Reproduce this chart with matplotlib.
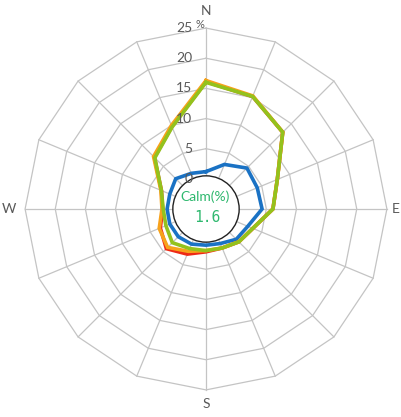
import matplotlib.pyplot as plt
import numpy as np

directions = ["N", "NNE", "NE", "ENE", "E", "ESE", "SE", "SSE",
              "S", "SSW", "SW", "WSW", "W", "WNW", "NW", "NNW"]
blue = [1.2, 3.0, 4.6, 4.2, 4.3, 2.5, 2.1, 1.2, 1.0, 1.3, 1.5, 1.5, 1.45, 1.5, 2.1, 1.4]
red = [16.1, 15.2, 13.0, 7.8, 6.1, 3.4, 2.7, 2.0, 2.1, 3.1, 4.3, 3.2, 2.2, 3.0, 7.1, 9.8]
orange = [16.3, 15.3, 13.0, 7.8, 6.1, 3.4, 2.7, 2.0, 1.9, 2.6, 4.0, 3.4, 2.3, 3.1, 7.3, 10.0]
green = [16.0, 15.2, 13.0, 7.8, 6.1, 3.4, 2.7, 2.0, 1.9, 2.1, 2.9, 2.2, 2.1, 3.0, 7.0, 9.7]
ring_values = [0, 5, 10, 15, 20, 25]
calm = 1.6

HOLE = 5.0          # the 0 ring sits 5 units away from the centre
S = 6.03            # pixels per unit
CX, CY = 206, 209   # centre in pixels (from top-left)

fig = plt.figure(figsize=(4.01, 4.17), dpi=100)
ax = fig.add_axes([0, 0, 1, 1])
ax.set_xlim(-CX / S, (401 - CX) / S)
ax.set_ylim(-(417 - CY) / S, CY / S)
ax.axis('off')

theta = np.radians(np.arange(len(directions)) * 360.0 / len(directions))

def xy(vals):
    r = np.asarray(vals, dtype=float) + HOLE
    r = np.append(r, r[0])
    t = np.append(theta, theta[0])
    return r * np.sin(t), r * np.cos(t)

def px(x, y):
    return (x - CX) / S, (CY - y) / S

grid_c = '#c4c4c4'
rmax = ring_values[-1] + HOLE
for t in theta:
    ax.plot([0, rmax * np.sin(t)], [0, rmax * np.cos(t)], color=grid_c, lw=0.9, zorder=1)
for v in ring_values:
    gx, gy = xy([v] * len(directions))
    ax.plot(gx, gy, color=grid_c, lw=0.9, zorder=1)

# calm circle
ax.add_patch(plt.Circle((0, 0), HOLE + 0.5, facecolor='white', edgecolor='#222222',
                        lw=1.0, zorder=2))

for vals, c in [(blue, '#1a72c4'), (red, '#ee2a16'), (orange, '#f7a21b'), (green, '#93c21d')]:
    lx, ly = xy(vals)
    ax.plot(lx, ly, color=c, lw=2.6, solid_joinstyle='miter', zorder=3)

txt_c = '#595959'
for v in ring_values:
    ax.text(-2.3, v + HOLE, str(v), ha='right', va='center', fontsize=10,
            color=txt_c, family='Lato', zorder=4)
ax.text(*px(195, 25), '%', ha='left', va='center', fontsize=8, color=txt_c, family='Lato')

for lab, (x, y) in [("N", (206.5, 11)), ("E", (395.5, 209)), ("S", (206, 404)), ("W", (8.5, 209))]:
    ax.text(*px(x, y), lab, ha='center', va='center', fontsize=10, color=txt_c, family='Lato')

ax.text(*px(205, 197), 'Calm(%)', ha='center', va='center', fontsize=10,
        color='#2eb86e', family='Lato', zorder=5)
ax.text(*px(207, 218), str(calm), ha='center', va='center', fontsize=10.5,
        color='#2eb86e', family='DejaVu Sans Mono', zorder=5)

fig.savefig('out.png', dpi=100)
